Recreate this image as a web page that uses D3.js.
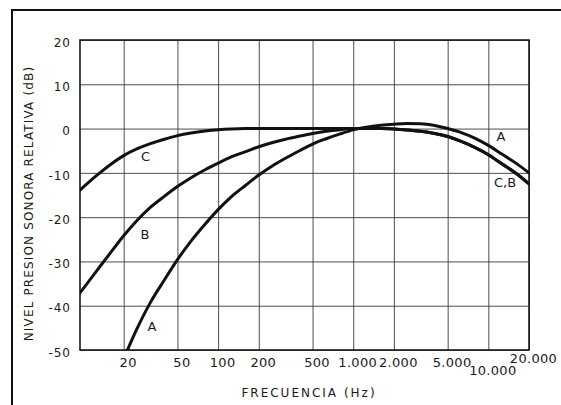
<!DOCTYPE html>
<html><head><meta charset="utf-8">
<script src="https://cdn.jsdelivr.net/npm/d3@7"></script>
<style>
html,body{margin:0;padding:0;background:#fff;}
svg{display:block;}
text{font-family:"DejaVu Sans",sans-serif;fill:#1a1a1a;}
</style></head><body>
<svg id="chart" width="561" height="405"></svg>
<script>
// ---- data ----
const frequencies = [9.5, 12.5, 16, 20, 25, 31.5, 40, 50, 63, 80, 100, 125, 160, 200, 250, 315, 400, 500, 630, 800, 1000, 1250, 1600, 2000, 2500, 3150, 4000, 5000, 6300, 8000, 10000, 12500, 16000, 20000];
const seriesA = [null, null, null, -52, -45.3, -39.3, -34.2, -29.6, -25.4, -21.6, -18.3, -15.4, -12.8, -10.5, -8.5, -6.7, -5.0, -3.5, -2.3, -1.2, -0.3, 0.3, 0.75, 1.0, 1.15, 1.1, 0.7, 0.0, -0.9, -2.2, -3.8, -5.7, -7.8, -10];
const seriesB = [-37.1, -32.3, -28.0, -24.2, -20.8, -17.8, -15.3, -13.1, -11.1, -9.3, -7.8, -6.4, -5.2, -4.1, -3.2, -2.4, -1.7, -1.1, -0.6, -0.25, 0, 0, 0, -0.1, -0.3, -0.6, -1.1, -1.8, -2.9, -4.3, -5.9, -7.9, -10.1, -12.5];
const seriesC = [-13.9, -10.7, -8.1, -6.1, -4.6, -3.4, -2.4, -1.6, -1.0, -0.55, -0.25, -0.08, 0, 0, 0, 0, 0, 0, 0, 0, 0, 0, 0, -0.1, -0.3, -0.6, -1.1, -1.8, -2.9, -4.3, -5.9, -7.9, -10.1, -12.5];
const xTickValues = [20, 50, 100, 200, 500, 1000, 2000, 5000, 10000, 20000];
const yTickValues = [-50, -40, -30, -20, -10, 0, 10, 20];
const labelTexts = ["C", "B", "A", "A", "C,B"];
const labelFreqs = [29, 28.7, 32.4, 12400, 13300];
const labelLevels = [-6.4, -23.9, -44.7, -1.9, -12.1];
const xTitle = "FRECUENCIA (Hz)";
const yTitle = "NIVEL PRESION SONORA RELATIVA (dB)";

// ---- layout ----
const W = 561, H = 405;
const plot = {left: 80, right: 529, top: 40, bottom: 350};
const svg = d3.select("#chart");

const x = d3.scaleLog().domain([frequencies[0], 20000]).range([plot.left, plot.right]);
const y = d3.scaleLinear().domain([-50, 20]).range([plot.bottom, plot.top]);

const loc = d3.formatLocale({decimal: ",", thousands: ".", grouping: [3], currency: ["", ""], minus: "-"});
const fmt = loc.format(",d");

svg.append("rect").attr("width", W).attr("height", H).attr("fill", "#fff");

// outer frame (partially outside the picture)
svg.append("path").attr("d", `M12,${H + 5}V10H${W + 5}`)
  .attr("fill", "none").attr("stroke", "#111").attr("stroke-width", 2);

// x axis with gridlines
const gx = svg.append("g").attr("transform", `translate(0,${plot.bottom})`)
  .call(d3.axisBottom(x).tickValues(xTickValues).tickFormat(fmt).tickSize(-(plot.bottom - plot.top)));
gx.select(".domain").remove();
gx.selectAll(".tick line").attr("stroke", "#3a3a3a").attr("stroke-width", 0.9);
gx.selectAll(".tick text")
  .attr("font-size", 13).attr("letter-spacing", "0.3px").attr("fill", "#1a1a1a")
  .attr("dy", 0).attr("dx", 4)
  .attr("y", d => d === 10000 ? 25 : d === 20000 ? 13 : 17);

// y axis with gridlines
const gy = svg.append("g").attr("transform", `translate(${plot.left},0)`)
  .call(d3.axisLeft(y).tickValues(yTickValues).tickFormat(fmt).tickSize(-(plot.right - plot.left)));
gy.select(".domain").remove();
gy.selectAll(".tick line").attr("stroke", "#3a3a3a").attr("stroke-width", 0.9);
gy.selectAll(".tick text")
  .attr("font-size", 12).attr("letter-spacing", "1px").attr("fill", "#1a1a1a")
  .attr("x", -9).attr("dy", "0.52em");

// plot border
svg.append("rect")
  .attr("x", plot.left).attr("y", plot.top)
  .attr("width", plot.right - plot.left).attr("height", plot.bottom - plot.top)
  .attr("fill", "none").attr("stroke", "#1a1a1a").attr("stroke-width", 1.6);

// curves
svg.append("clipPath").attr("id", "clip").append("rect")
  .attr("x", plot.left).attr("y", plot.top)
  .attr("width", plot.right - plot.left).attr("height", plot.bottom - plot.top);

const line = d3.line()
  .defined(d => d[1] !== null)
  .x(d => x(d[0])).y(d => y(d[1]))
  .curve(d3.curveMonotoneX);

[seriesC, seriesB, seriesA].forEach(s => {
  svg.append("path")
    .attr("clip-path", "url(#clip)")
    .attr("d", line(frequencies.map((f, i) => [f, s[i]])))
    .attr("fill", "none").attr("stroke", "#111").attr("stroke-width", 3)
    .attr("stroke-linecap", "round").attr("stroke-linejoin", "round");
});

// curve labels
labelTexts.forEach((t, i) => {
  svg.append("text")
    .attr("x", x(labelFreqs[i])).attr("y", y(labelLevels[i]))
    .attr("text-anchor", "middle").attr("dominant-baseline", "central")
    .attr("font-size", 13).text(t);
});

// axis titles
svg.append("text")
  .attr("x", 309).attr("y", 396.5).attr("text-anchor", "middle")
  .attr("font-size", 12).attr("letter-spacing", "2px").text(xTitle);

svg.append("text")
  .attr("transform", "translate(33,203.5) rotate(-90)")
  .attr("text-anchor", "middle")
  .attr("font-size", 12).attr("letter-spacing", "1.15px").text(yTitle);
</script>
</body></html>
